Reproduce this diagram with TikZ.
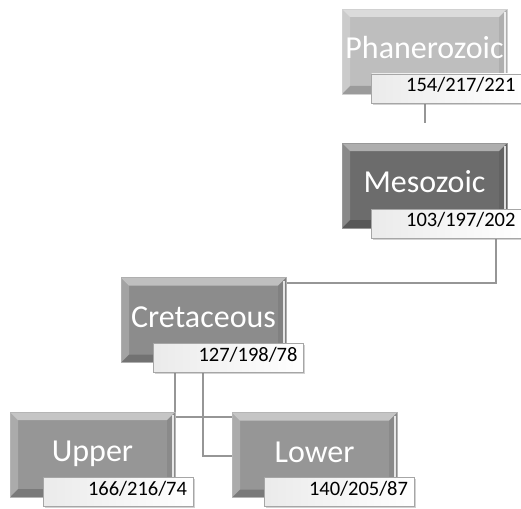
\documentclass[tikz,border=0pt]{standalone}
\usepackage{fontspec}
\setmainfont{Carlito}
\usetikzlibrary{backgrounds,shadows}
\definecolor{cP}{RGB}{190,190,190}
\definecolor{cM}{RGB}{108,108,108}
\definecolor{cC}{RGB}{140,140,140}
\definecolor{cU}{RGB}{150,150,150}
\definecolor{cLn}{RGB}{150,150,150}
\tikzset{
  bevel/.style={path picture={
    \fill[white,opacity=0.45] (path picture bounding box.north west) -- (path picture bounding box.north east)
      -- ([shift={(-8pt,-8pt)}]path picture bounding box.north east) -- ([shift={(8pt,-8pt)}]path picture bounding box.north west) -- cycle;
    \fill[white,opacity=0.2] (path picture bounding box.north west) -- ([shift={(8pt,-8pt)}]path picture bounding box.north west)
      -- ([shift={(8pt,8pt)}]path picture bounding box.south west) -- (path picture bounding box.south west) -- cycle;
    \fill[black,opacity=0.18] (path picture bounding box.south west) -- (path picture bounding box.south east)
      -- ([shift={(-8pt,8pt)}]path picture bounding box.south east) -- ([shift={(8pt,8pt)}]path picture bounding box.south west) -- cycle;
    \fill[black,opacity=0.08] (path picture bounding box.north east) -- (path picture bounding box.south east)
      -- ([shift={(-8pt,8pt)}]path picture bounding box.south east) -- ([shift={(-8pt,-8pt)}]path picture bounding box.north east) -- cycle;
    \draw[white,opacity=0.8,line width=1.5pt] ([shift={(-2pt,-3pt)}]path picture bounding box.north east) -- ([shift={(-2pt,3pt)}]path picture bounding box.south east);
  }},
  box/.style={rectangle, minimum width=165pt, minimum height=85pt, inner sep=0pt,
    draw=#1!70!white, line width=0.8pt, fill=#1, text=white,
    font=\fontsize{32}{36}\selectfont, text height=22pt, text depth=8pt, bevel},
  lab/.style={rectangle, draw=gray!70, line width=0.8pt, left color=gray!16, right color=white,
    minimum height=29pt, text width=138pt, inner xsep=6pt, inner ysep=0pt, align=right,
    font=\fontsize{20.5}{24}\selectfont, text height=14pt, text depth=8pt,
    drop shadow={shadow xshift=1.5pt, shadow yshift=-1.5pt, opacity=0.35, fill=gray}},
  conn/.style={draw=cLn, line width=2.8pt}
}
\begin{document}
\begin{tikzpicture}[x=1pt,y=1pt]
\useasboundingbox (0,0) rectangle (521,-508);
\node[box=cP] (P) at (424.5,-51.5) {Phanerozoic};
\node[lab] (PL) at (446.5,-88.5) {154/217/221};
\node[box=cM] (M) at (424.5,-185.5) {Mesozoic};
\node[lab] (ML) at (446.5,-223.5) {103/197/202};
\node[box=cC] (C) at (203.5,-320) {Cretaceous};
\node[lab] (CL) at (228.5,-358) {127/198/78};
\node[box=cU] (U) at (92.5,-454.5) {Upper};
\node[lab] (UL) at (118,-492) {166/216/74};
\node[box=cU] (Lw) at (314.5,-455) {Lower};
\node[lab] (LL) at (339,-492) {140/205/87};
\coordinate (pe) at (425,-123);
\coordinate (mx) at (496,-283);
\coordinate (c1) at (175,-417);
\coordinate (c2) at (203,-456);
\begin{scope}[on background layer]
\fill[white] (0,0) rectangle (521,-508);
\draw[conn] (PL.south -| pe) -- (pe);
\draw[conn] (ML.south -| mx) -- (mx) -- (mx -| C.east);
\draw[conn] (CL.south -| c1) -- (c1) -- (c1 -| Lw.west);
\draw[conn] (CL.south -| c2) -- (c2) -- (c2 -| Lw.west);
\end{scope}
\end{tikzpicture}
\end{document}
